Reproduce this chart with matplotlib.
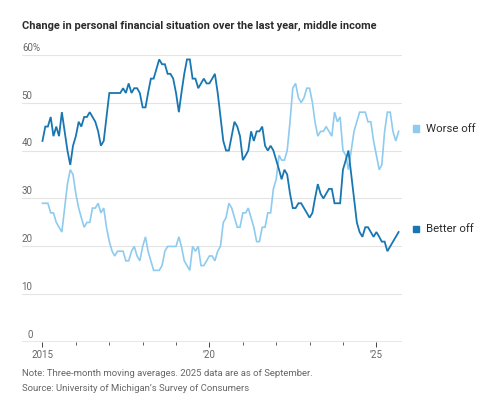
import matplotlib
matplotlib.use("Agg")
import matplotlib.pyplot as plt
import matplotlib.dates as mdates
import numpy as np
import pandas as pd

plt.rcParams["font.family"] = ["Roboto", "DejaVu Sans"]

# ---- data: monthly, Jan 2015 .. Sep 2025 (three-month moving averages, %) ----
start_month = "2015-01"
better_off = [
    42, 45, 45, 47, 43, 45, 43, 48, 44, 40, 37, 41,
    43, 46, 45, 47, 47, 48, 47, 46, 44, 41, 42, 47,
    52, 52, 52, 52, 52, 53, 52, 54, 52, 53, 53, 52,
    49, 49, 52, 55, 55, 57, 59, 58, 58, 56, 56, 55,
    52, 48, 52, 56, 59, 59, 55, 55, 53, 54, 55, 54,
    54, 55, 56, 52, 47, 42, 40, 40, 43, 46, 45, 43,
    38, 39, 40, 44, 42, 44, 44, 45, 41, 40, 41, 40,
    38, 36, 34, 36, 35, 31, 28, 28, 29, 29, 28, 27,
    26, 27, 30, 33, 31, 30, 31, 32, 32, 29, 29, 29,
    36, 38, 40, 35, 30, 25, 23, 22, 24, 24, 23, 22,
    23, 22, 21, 21, 19, 20, 21, 22, 23,
]
worse_off = [
    29, 29, 29, 27, 27, 25, 24, 23, 28, 33, 36, 35,
    31, 28, 26, 24, 25, 25, 28, 28, 29, 27, 28, 24,
    21, 19, 18, 19, 19, 19, 17, 17, 19, 20, 18, 17,
    20, 22, 19, 17, 15, 15, 15, 16, 19, 20, 20, 20,
    20, 22, 20, 17, 16, 15, 20, 19, 20, 16, 16, 17,
    18, 18, 17, 19, 20, 25, 26, 29, 28, 26, 24, 24,
    27, 27, 28, 26, 24, 21, 21, 24, 24, 27, 27, 32,
    34, 39, 38, 38, 40, 46, 53, 54, 51, 50, 51, 53,
    53, 50, 46, 43, 44, 44, 45, 44, 43, 48, 46, 47,
    40, 39, 36, 40, 44, 46, 48, 48, 48, 46, 46, 42,
    39, 36, 37, 44, 48, 48, 44, 42, 44,
]
y_ticks = [0, 10, 20, 30, 40, 50, 60]
x_major_years = [2015, 2020, 2025]
x_major_labels = ["2015", "\u201920", "\u201925"]

title = "Change in personal financial situation over the last year, middle income"
note = "Note: Three-month moving averages. 2025 data are as of September."
source = "Source: University of Michigan\u2019s Survey of Consumers"

DARK = "#1877b2"
LIGHT = "#8ecbef"
TEXT = "#2b2b2b"
GREY = "#666666"

dates = pd.date_range(start_month, periods=len(better_off), freq="MS")

fig = plt.figure(figsize=(5.0, 3.96), dpi=100)
ax = fig.add_axes([0.044, 0.1356, 0.76, 0.7264])

ax.plot(dates, worse_off, color=LIGHT, linewidth=1.2, solid_joinstyle="miter", zorder=3)
ax.plot(dates, better_off, color=DARK, linewidth=1.3, solid_joinstyle="miter", zorder=4)

ax.set_ylim(0, 60)
ax.set_xlim(pd.Timestamp("2014-05-22"), pd.Timestamp("2025-10-08"))

for v in y_ticks[1:]:
    ax.axhline(v, color="#e4e4e4", linewidth=0.8, zorder=1)
ax.axhline(0, color="#444444", linewidth=0.9, zorder=5)

for s in ax.spines.values():
    s.set_visible(False)

ax.set_yticks([])
# y labels sit above gridlines, numbers right-aligned; top one carries the %
for v in y_ticks[:-1]:
    ax.annotate(str(v), xy=(0, v), xycoords=("axes fraction", "data"),
                xytext=(7.5, 1.5), textcoords="offset points",
                ha="right", va="bottom", fontsize=7, color=GREY)
ax.annotate(f"{y_ticks[-1]}%", xy=(0, y_ticks[-1]), xycoords=("axes fraction", "data"),
            xytext=(0.6, 1.5), textcoords="offset points",
            ha="left", va="bottom", fontsize=7, color=GREY)

ax.set_xticks([pd.Timestamp(f"{y}-01-01") for y in x_major_years])
ax.set_xticklabels(x_major_labels)
ax.xaxis.set_minor_locator(mdates.YearLocator(1))
ax.tick_params(axis="x", which="major", length=3.5, width=0.7, color="#444444",
               labelsize=7, labelcolor=GREY, pad=2)
ax.tick_params(axis="x", which="minor", length=2, width=0.6, color="#444444")

fig.text(0.044, 0.934, title, fontsize=7.9, fontweight="bold", color=TEXT,
         ha="left", va="center")
fig.text(0.044, 0.056, note, fontsize=6.8, color=GREY, ha="left", va="center")
fig.text(0.044, 0.020, source, fontsize=6.8, color=GREY, ha="left", va="center")

# legend squares at line ends
fig.patches.append(plt.Rectangle((0.825, 0.667), 0.013, 0.0165, color=LIGHT,
                                 transform=fig.transFigure, figure=fig))
fig.text(0.853, 0.675, "Worse off", fontsize=8.2, color=TEXT, ha="left", va="center")
fig.patches.append(plt.Rectangle((0.825, 0.413), 0.013, 0.0165, color=DARK,
                                 transform=fig.transFigure, figure=fig))
fig.text(0.853, 0.421, "Better off", fontsize=8.2, color=TEXT, ha="left", va="center")

fig.savefig("out.png", dpi=100)
